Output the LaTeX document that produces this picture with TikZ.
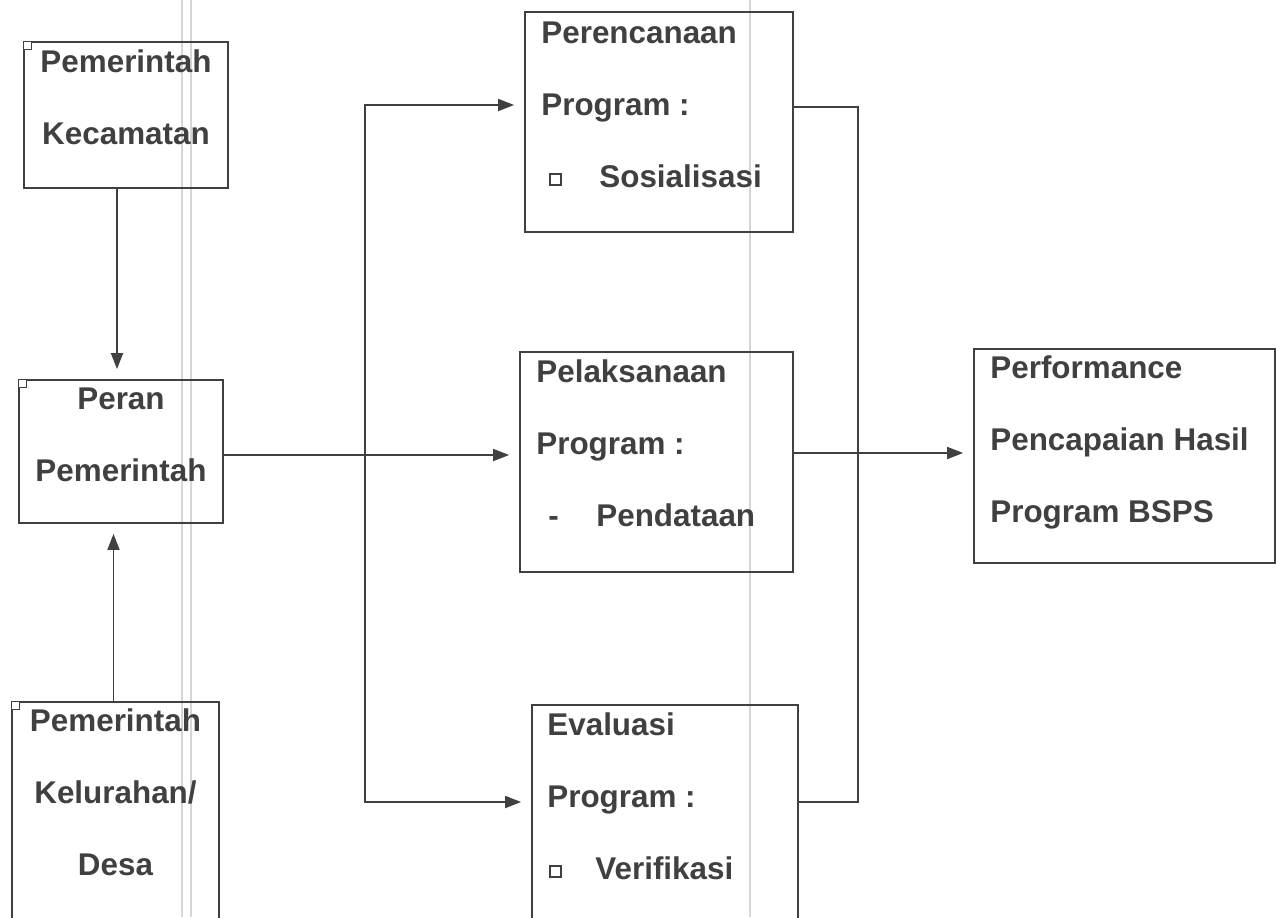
\documentclass[tikz,border=0pt]{standalone}
\usepackage{fontspec}
\setmainfont{Liberation Sans}
\usetikzlibrary{arrows.meta, fit}

\definecolor{ink}{HTML}{404040}
\definecolor{scan}{HTML}{D6D6D6}
\newcommand{\boxbullet}{\raisebox{1.5pt}{\fboxsep=0pt\fboxrule=0.8pt\fbox{\rule{0pt}{4.5pt}\rule{4.5pt}{0pt}}}}

\tikzset{
  kotak/.style={draw=ink, line width=0.9pt, inner sep=0pt},
  isi/.style={text=ink, font=\fontsize{15.7}{36}\selectfont\bfseries, inner sep=0pt},
  garis/.style={draw=ink, line width=0.9pt},
  panah/.style={garis, -{Triangle[length=8pt,width=6pt]}, shorten >=5pt},
  panahdua/.style={garis, {Triangle[length=8pt,width=6pt]}-{Triangle[length=8pt,width=6pt]}, shorten >=5pt, shorten <=5pt},
  tanda/.style={draw=ink, line width=0.6pt, fill=white, minimum size=4pt, inner sep=0pt, anchor=north west},
}

\begin{document}
\begin{tikzpicture}[x=0.5pt, y=-0.5pt]
  \useasboundingbox (0,0) rectangle (1276,917);
  \clip (0,0) rectangle (1276,917);
  \fill[white] (0,0) rectangle (1276,917);
  % garis bekas pindaian
  \draw[scan, line width=0.8pt] (182,0) -- (182,917) (191,0) -- (191,917) (750,0) -- (750,917);

  % kotak kiri
  \node[kotak, fit={(24,42) (228,188)}] (kec) {};
  \node[kotak, fit={(19,380) (223,523)}] (peran) {};
  \node[kotak, fit={(12,702) (219,960)}] (kel) {};
  \node[tanda] (kecM) at (kec.north west) {};
  \node[tanda] (peranM) at (peran.north west) {};
  \node[tanda] (kelM) at (kel.north west) {};

  % base = baris terakhir
  \node[isi, anchor=base, align=center] (kecT) at (kec.north |- 0,144) {Pemerintah\\Kecamatan};
  \node[isi, anchor=base, align=center] (peranT) at (peran.north |- 0,481) {Peran\\Pemerintah};
  \node[isi, anchor=base, align=center] (kelT) at (kel.north |- 0,875) {Pemerintah\\Kelurahan/\\Desa};

  % kotak tengah
  \node[kotak, fit={(525,12) (793,232)}] (rencana) {};
  \node[kotak, fit={(520,352) (793,572)}] (laks) {};
  \node[kotak, fit={(532,705) (798,960)}] (eval) {};

  \node[isi, anchor=base west, align=left] (rencanaT) at (541,187)
    {Perencanaan\\Program :\\\makebox[29pt][l]{\hspace{4pt}\boxbullet}Sosialisasi};
  \node[isi, anchor=base west, align=left] (laksT) at (536,526)
    {Pelaksanaan\\Program :\\\makebox[30pt][l]{\hspace{6pt}-}Pendataan};
  \node[isi, anchor=base west, align=left] (evalT) at (547,879)
    {Evaluasi\\Program :\\\makebox[24pt][l]{\hspace{1pt}\boxbullet}Verifikasi};

  % kotak kanan
  \node[kotak, fit={(974,349) (1275,563)}] (perf) {};
  \node[isi, anchor=base west, align=left] (perfT) at (990,522)
    {Performance\\Pencapaian Hasil\\Program BSPS};

  % panah
  \draw[panah] ([xshift=-4.5pt]kec.south) -- ([xshift=-4.5pt]kec.south |- peran.north);
  \draw[panah] ([xshift=-1pt]kel.north) -- ([xshift=-1pt]kel.north |- peran.south);
  \draw[panah] (peran.east |- 0,455) -- (laks.west |- 0,455);
  \draw[panahdua] (rencana.west |- 0,105) -- (365,105) -- (365,802) -- (eval.west |- 0,802);
  \draw[garis] (rencana.east |- 0,107) -| (858,802) -- (eval.east |- 0,802);
  \draw[panah] (laks.east |- 0,453) -- (perf.west |- 0,453);
\end{tikzpicture}
\end{document}
